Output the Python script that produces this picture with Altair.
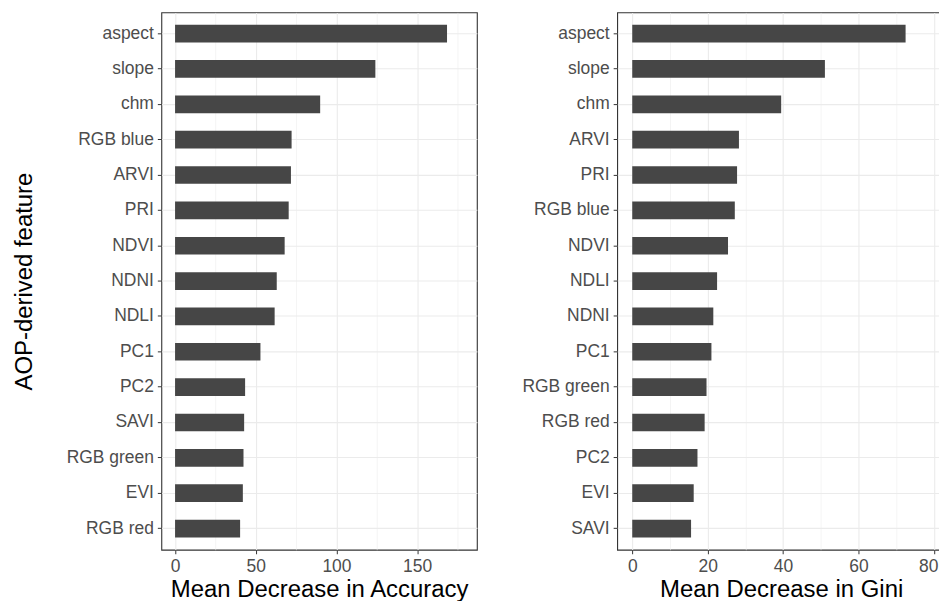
import altair as alt
import pandas as pd

acc_features = ["aspect", "slope", "chm", "RGB blue", "ARVI", "PRI", "NDVI", "NDNI",
                "NDLI", "PC1", "PC2", "SAVI", "RGB green", "EVI", "RGB red"]
acc_values = [168.5, 124.1, 89.9, 72.2, 71.8, 70.4, 67.9, 63.0, 61.7, 52.9,
              43.4, 42.8, 42.4, 42.0, 40.3]

gini_features = ["aspect", "slope", "chm", "ARVI", "PRI", "RGB blue", "NDVI", "NDLI",
                 "NDNI", "PC1", "RGB green", "RGB red", "PC2", "EVI", "SAVI"]
gini_values = [72.5, 51.1, 39.5, 28.3, 27.8, 27.2, 25.4, 22.5, 21.5, 21.0,
               19.7, 19.2, 17.3, 16.3, 15.6]

acc_ticks = [0, 25, 50, 75, 100, 125, 150, 175]
gini_ticks = [0, 10, 20, 30, 40, 50, 60, 70, 80]

FONT = "Liberation Sans"
BAR = "#464646"


def panel(features, values, xtitle, ytitle, domain, ticks, major, width, flush=False):
    df = pd.DataFrame({"feature": features, "value": values})
    major_test = f"datum.value % {major} == 0"
    extra = {"labelFlush": 12, "labelFlushOffset": 4} if flush else {}
    x_axis = alt.Axis(
        title=xtitle, values=ticks, grid=True,
        labelExpr=f"datum.value % {major} == 0 ? datum.label : ''",
        tickSize=4, tickColor="#333333", tickWidth=1,
        tickOpacity={"condition": {"test": major_test, "value": 1}, "value": 0},
        gridColor="#EBEBEB",
        gridWidth={"condition": {"test": major_test, "value": 1.1}, "value": 0.55},
        labelFont=FONT, labelFontSize=17.5, labelColor="#4D4D4D", labelPadding=3.5,
        titleFont=FONT, titleFontSize=24, titleFontWeight="normal", titleColor="#000000",
        titlePadding=2.5, domain=False, **extra,
    )
    y_axis = alt.Axis(
        title=ytitle, bandPosition=0.5, grid=True,
        tickSize=4, tickColor="#333333", tickWidth=1,
        gridColor="#EBEBEB", gridWidth=1.1,
        labelFont=FONT, labelFontSize=17.5, labelColor="#4D4D4D", labelPadding=4,
        titleFont=FONT, titleFontSize=24, titleFontWeight="normal", titleColor="#000000",
        titlePadding=30, domain=False,
    )
    return alt.Chart(df).mark_bar(color=BAR).encode(
        x=alt.X("value:Q", axis=x_axis,
                scale=alt.Scale(domain=domain, nice=False, zero=False)),
        y=alt.Y("feature:N", sort="-x", axis=y_axis,
                scale=alt.Scale(paddingInner=0.5, paddingOuter=0.35)),
    ).properties(width=width, height=539)


left = panel(acc_features, acc_values, "Mean Decrease in Accuracy", "AOP-derived feature",
             [-8.5, 187], acc_ticks, 50, 316.5)
right = panel(gini_features, gini_values, "Mean Decrease in Gini", "",
              [-4, 83], gini_ticks, 20, 329, flush=True)

chart = alt.hconcat(left, right, spacing=42.2).configure_view(
    stroke="#333333", strokeWidth=1.1
).properties(
    padding={"left": 2.8, "top": 2.5, "right": -7, "bottom": 0}
)

chart.save("out.html", embed_options={"renderer": "svg", "actions": False})
